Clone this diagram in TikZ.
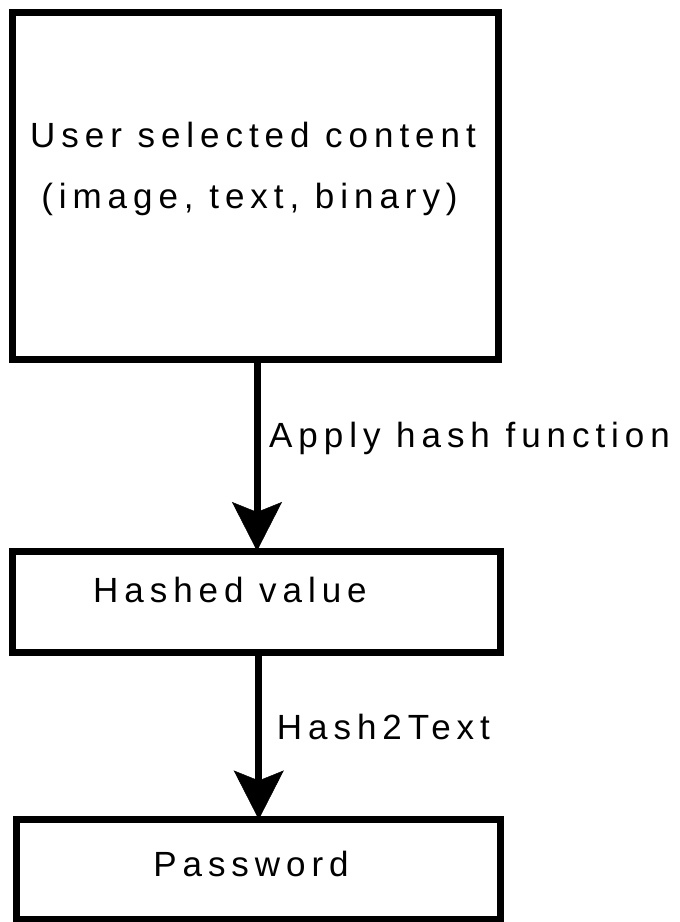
\documentclass[tikz,border=0pt]{standalone}
\usepackage{fontspec}
\setmainfont{Liberation Sans}[LetterSpace=17]
\usetikzlibrary{arrows.meta}
\begin{document}
\begin{tikzpicture}[x=1pt,y=-1pt,
  box/.style={draw=black,line width=7pt,inner sep=0pt,outer sep=0pt,fill=white},
  txt/.style={inner sep=0pt,anchor=base,font=\fontsize{35}{42}\selectfont},
  lbl/.style={inner sep=0pt,anchor=base west,font=\fontsize{35}{42}\selectfont},
  arr/.style={line width=7pt,-{Stealth[length=49pt,width=50pt,inset=10pt,line width=0.5pt]}}]
\useasboundingbox[fill=white] (0,0) rectangle (680,922);
\node[box,minimum width=486pt,minimum height=347pt] (b1) at (255.5,186) {};
\node[box,minimum width=487.5pt,minimum height=101pt] (b2) at (256.25,601.5) {};
\node[box,minimum width=484pt,minimum height=100pt] (b3) at (258,869.5) {};
\node[txt] (t1) at (253,147) {User selected content};
\node[txt] (t2) at (249.5,208) {(image, text, binary)};
\node[txt] (t3) at (230,602) {Hashed value};
\node[txt] (t4) at (251,876) {Password};
\coordinate (a1s) at ([xshift=1.5pt]b1.south);
\coordinate (a2s) at ([xshift=2.5pt]b2.south);
\coordinate (l1p) at ([xshift=12pt]a1s |- 0,447);
\coordinate (l2p) at ([xshift=18pt]a2s |- 0,739);
\draw[arr] (a1s) -- (a1s |- b2.north);
\node[lbl] (l1) at (l1p) {Apply hash function};
\draw[arr] (a2s) -- (a2s |- b3.north);
\node[lbl] (l2) at (l2p) {Hash2Text};
\end{tikzpicture}
\end{document}
